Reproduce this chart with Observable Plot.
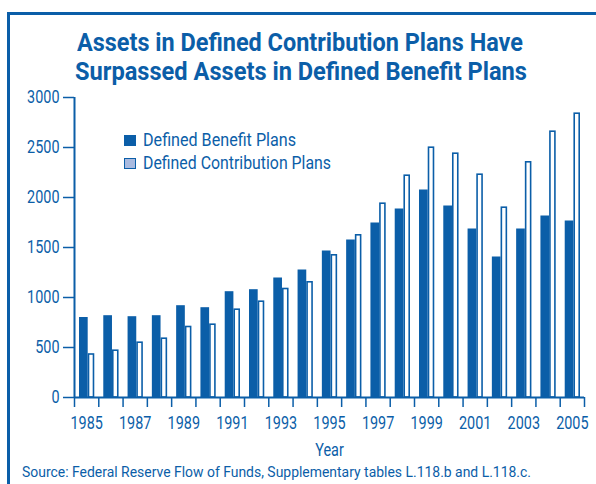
<!DOCTYPE html>
<html>
<head>
<meta charset="utf-8">
<script src="https://cdn.jsdelivr.net/npm/d3@7"></script>
<script src="https://cdn.jsdelivr.net/npm/@observablehq/plot@0.6"></script>
<style>
  html, body { margin: 0; padding: 0; background: #fff; }
  #wrap { position: relative; width: 596px; height: 484px; overflow: hidden;
          font-family: Roboto, "DejaVu Sans Condensed", sans-serif; color: #0b5ea8; }
  #frame { position: absolute; left: 7px; top: 12px; width: 600px; height: 480px;
           border-left: 3px solid #0b5ea8; border-top: 3px solid #0b5ea8; }
  .fit { display: inline-block; white-space: nowrap; transform-origin: 0 0; }
  .tline { position: absolute; font-weight: bold; font-size: 26.5px; line-height: 29px; }
  #chart { position: absolute; left: 0; top: 85px; }
  .item { position: absolute; left: 124px; display: flex; align-items: center; height: 20px; font-size: 17.5px; }
  .sw { width: 12px; height: 11px; margin-right: 7px; box-sizing: border-box; flex: none; }
  #source { position: absolute; left: 22px; top: 463px; font-size: 15px; line-height: 18px; }
</style>
</head>
<body>
<div id="wrap">
  <div id="frame"></div>
  <div class="tline" style="left:77px;top:27px"><span class="fit" data-w="446">Assets in Defined Contribution Plans Have</span></div>
  <div class="tline" style="left:75px;top:56px"><span class="fit" data-w="452">Surpassed Assets in Defined Benefit Plans</span></div>
  <div id="chart"></div>
  <div class="item" style="top:130px"><div class="sw" style="background:#0b5ea8"></div><span class="fit" data-w="153">Defined Benefit Plans</span></div>
  <div class="item" style="top:153px"><div class="sw" style="background:#a9badf;border:1.5px solid #0b5ea8"></div><span class="fit" data-w="188">Defined Contribution Plans</span></div>
  <div id="source"><span class="fit" data-w="509">Source: Federal Reserve Flow of Funds, Supplementary tables L.118.b and L.118.c.</span></div>
</div>
<script>
const years = [1985,1986,1987,1988,1989,1990,1991,1992,1993,1994,1995,1996,1997,1998,1999,2000,2001,2002,2003,2004,2005];
const definedBenefit = [800,818,808,818,918,898,1058,1078,1195,1275,1465,1575,1745,1885,2075,1915,1685,1405,1685,1815,1765];
const definedContribution = [430,468,548,588,705,728,878,958,1085,1152,1422,1622,1938,2218,2498,2438,2228,1898,2352,2658,2838];
const yTicks = [0,500,1000,1500,2000,2500,3000];
const xLabelYears = [1985,1987,1989,1991,1993,1995,1997,1999,2001,2003,2005];

const blue = "#0b5ea8";
const db = years.map((y, i) => ({year: y, value: definedBenefit[i]}));
const dc = years.map((y, i) => ({year: y, value: definedContribution[i]}));
const boundaries = years.concat([years[years.length - 1] + 1]);

const chart = Plot.plot({
  width: 596,
  height: 380,
  marginLeft: 74,
  marginRight: 12,
  marginTop: 12,
  marginBottom: 68,
  style: {fontFamily: 'Roboto, "DejaVu Sans Condensed", sans-serif', fontSize: "18px", color: blue, background: "transparent"},
  x: {domain: [years[0], years[years.length - 1] + 1], axis: null},
  y: {domain: [0, 3000], axis: null},
  marks: [
    Plot.rectY(db, {x: "year", interval: 1, y: "value", fill: blue, insetLeft: 5, insetRight: 10.6}),
    Plot.rectY(dc, {x: "year", interval: 1, y: "value", fill: "white", stroke: blue, strokeWidth: 1.6, insetLeft: 14.5, insetRight: 4.8}),
    Plot.axisY({ticks: yTicks, tickSize: 11, tickPadding: 4, tickFormat: d3.format("d"), stroke: blue, strokeWidth: 1.5, fill: blue, label: null}),
    Plot.axisX({ticks: boundaries, tickSize: 10, tickFormat: () => "", stroke: blue, strokeWidth: 1.5, label: null}),
    Plot.axisX({ticks: xLabelYears.map(y => y + 0.5), tickSize: 0, tickPadding: 19, tickFormat: d => String(Math.floor(d)), fill: blue,
                label: "Year", labelAnchor: "center", labelArrow: "none", labelOffset: 58}),
    Plot.ruleX([years[0]], {stroke: blue, strokeWidth: 2}),
    Plot.ruleY([0], {stroke: blue, strokeWidth: 2})
  ]
});
document.getElementById("chart").appendChild(chart);

// condense SVG text glyphs horizontally (the reference uses a condensed face)
chart.querySelectorAll("text").forEach(t => {
  const targets = t.querySelectorAll("tspan").length ? t.querySelectorAll("tspan") : [t];
  targets.forEach(el => {
    const len = el.getComputedTextLength();
    if (len > 0) {
      el.setAttribute("textLength", (len * 0.8).toFixed(2));
      el.setAttribute("lengthAdjust", "spacingAndGlyphs");
    }
  });
});
// condense HTML texts to the reference widths
document.querySelectorAll(".fit").forEach(s => {
  const w = s.getBoundingClientRect().width;
  const target = +s.dataset.w;
  s.style.transform = `scaleX(${target / w})`;
});
</script>
</body>
</html>
